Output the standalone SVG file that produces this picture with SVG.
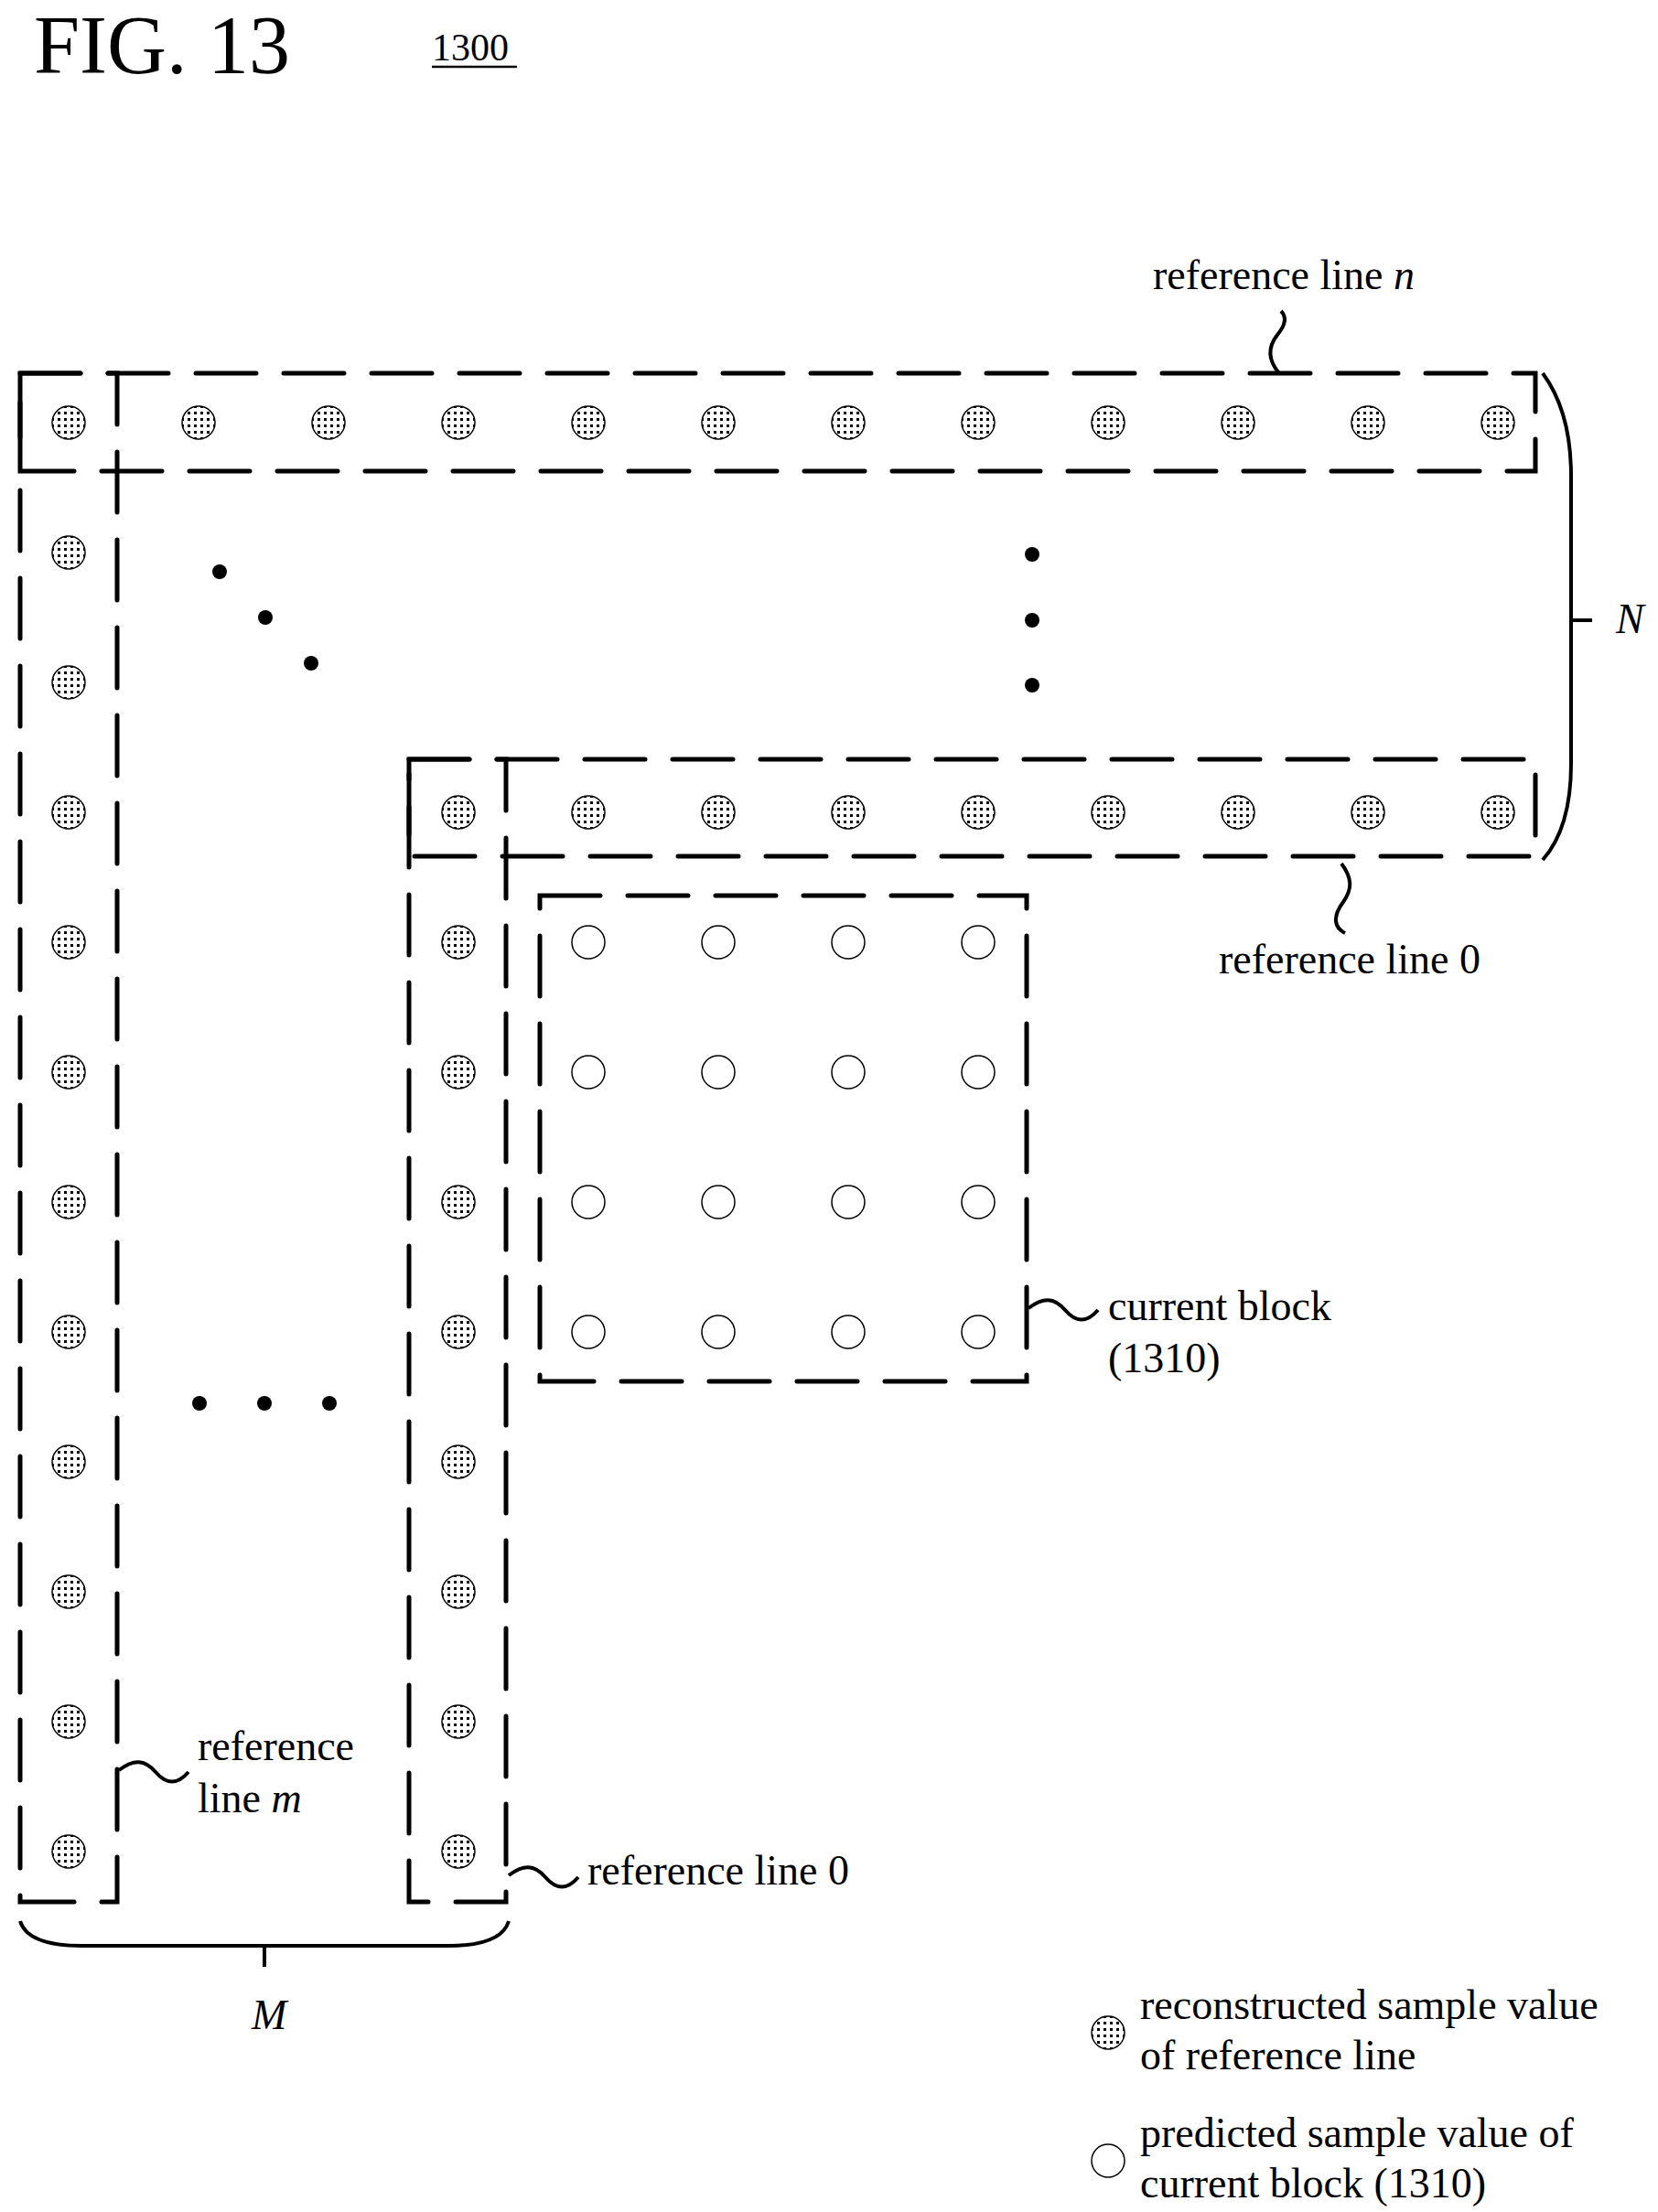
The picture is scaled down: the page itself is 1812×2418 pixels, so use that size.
<svg xmlns="http://www.w3.org/2000/svg" width="1812" height="2418" viewBox="0 0 1812 2418">
<style>
.d{fill:none;stroke:#000;stroke-width:5;stroke-dasharray:66 30;stroke-linecap:round}
.s{fill:none;stroke:#000;stroke-width:4}
.r{fill:url(#dots);stroke:#000;stroke-width:1.5}
.o{fill:#fff;stroke:#000;stroke-width:1.5}
.t{font-family:"Liberation Serif",serif;font-size:46px;fill:#000}
.dot{fill:#000}
</style>
<defs>
<pattern id="dots" width="7" height="7" patternUnits="userSpaceOnUse"><rect width="7" height="7" fill="#fff"/><rect x="2" y="2" width="3" height="3" fill="#000"/></pattern>
<g id="rc"><circle r="18" class="r"/></g>
<g id="pc"><circle r="18" class="o"/></g>
</defs>
<rect width="1812" height="2418" fill="#fff"/>
<text x="37" y="80" class="t" style="font-size:90px">FIG. 13</text>
<text x="472" y="66" class="t" style="font-size:42px">1300</text>
<line x1="472" y1="73" x2="565" y2="73" stroke="#000" stroke-width="2.5"/>

<g id="refline-n-h"><rect x="22" y="408" width="1656" height="107" class="d"/></g>
<g id="refline-m-v"><rect x="22" y="408" width="106" height="1671" class="d"/></g>
<g id="refline-0-h"><rect x="447" y="830" width="1231" height="106" class="d"/></g>
<g id="refline-0-v"><rect x="447" y="830" width="106" height="1249" class="d"/></g>
<g id="current-block"><rect x="590" y="979" width="532" height="531" class="d"/></g>

<g id="samples">
<use href="#rc" x="75" y="462"/><use href="#rc" x="217" y="462"/><use href="#rc" x="359" y="462"/><use href="#rc" x="501" y="462"/><use href="#rc" x="643" y="462"/><use href="#rc" x="785" y="462"/><use href="#rc" x="927" y="462"/><use href="#rc" x="1069" y="462"/><use href="#rc" x="1211" y="462"/><use href="#rc" x="1353" y="462"/><use href="#rc" x="1495" y="462"/><use href="#rc" x="1637" y="462"/>
<use href="#rc" x="75" y="604"/><use href="#rc" x="75" y="746"/><use href="#rc" x="75" y="888"/><use href="#rc" x="75" y="1030"/><use href="#rc" x="75" y="1172"/><use href="#rc" x="75" y="1314"/><use href="#rc" x="75" y="1456"/><use href="#rc" x="75" y="1598"/><use href="#rc" x="75" y="1740"/><use href="#rc" x="75" y="1882"/><use href="#rc" x="75" y="2024"/>
<use href="#rc" x="501" y="888"/><use href="#rc" x="643" y="888"/><use href="#rc" x="785" y="888"/><use href="#rc" x="927" y="888"/><use href="#rc" x="1069" y="888"/><use href="#rc" x="1211" y="888"/><use href="#rc" x="1353" y="888"/><use href="#rc" x="1495" y="888"/><use href="#rc" x="1637" y="888"/>
<use href="#rc" x="501" y="1030"/><use href="#rc" x="501" y="1172"/><use href="#rc" x="501" y="1314"/><use href="#rc" x="501" y="1456"/><use href="#rc" x="501" y="1598"/><use href="#rc" x="501" y="1740"/><use href="#rc" x="501" y="1882"/><use href="#rc" x="501" y="2024"/>
<use href="#pc" x="643" y="1030"/><use href="#pc" x="785" y="1030"/><use href="#pc" x="927" y="1030"/><use href="#pc" x="1069" y="1030"/>
<use href="#pc" x="643" y="1172"/><use href="#pc" x="785" y="1172"/><use href="#pc" x="927" y="1172"/><use href="#pc" x="1069" y="1172"/>
<use href="#pc" x="643" y="1314"/><use href="#pc" x="785" y="1314"/><use href="#pc" x="927" y="1314"/><use href="#pc" x="1069" y="1314"/>
<use href="#pc" x="643" y="1456"/><use href="#pc" x="785" y="1456"/><use href="#pc" x="927" y="1456"/><use href="#pc" x="1069" y="1456"/>
</g>
<g id="ellipses">
<circle cx="240" cy="625" r="8" class="dot"/><circle cx="290" cy="675" r="8" class="dot"/><circle cx="340" cy="725" r="8" class="dot"/>
<circle cx="1128" cy="606" r="8" class="dot"/><circle cx="1128" cy="678" r="8" class="dot"/><circle cx="1128" cy="749" r="8" class="dot"/>
<circle cx="218" cy="1534" r="8" class="dot"/><circle cx="289" cy="1534" r="8" class="dot"/><circle cx="360" cy="1534" r="8" class="dot"/>
</g>
<g id="connectors">
<path class="s" d="M1686 408 Q1717 450 1717 520 L1717 835 Q1717 905 1686 940 M1717 678 L1740 678"/>
<path class="s" d="M22 2100 Q30 2127 90 2127 L490 2127 Q548 2127 556 2100 M289 2127 L289 2150"/>
<path class="s" d="M1398 408 C1386 394 1385 380 1396 366 C1406 354 1406 346 1400 340"/>
<path class="s" d="M1466 944 C1478 960 1478 972 1468 986 C1456 1002 1458 1014 1470 1020"/>
<path class="s" d="M1124 1430 C1140 1418 1152 1418 1164 1432 C1176 1446 1188 1446 1200 1432"/>
<path class="s" d="M130 1935 C146 1923 158 1923 170 1937 C182 1951 194 1951 206 1937"/>
<path class="s" d="M556 2050 C572 2038 584 2038 596 2052 C608 2066 620 2066 632 2052"/>
</g>
<g id="labels">
<text x="1260" y="316" class="t">reference line <tspan font-style="italic">n</tspan></text>
<text x="1332" y="1064" class="t">reference line 0</text>
<text x="1211" y="1443" class="t">current block</text>
<text x="1211" y="1500" class="t">(1310)</text>
<text x="216" y="1924" class="t">reference</text>
<text x="216" y="1981" class="t">line <tspan font-style="italic">m</tspan></text>
<text x="642" y="2060" class="t">reference line 0</text>
<text x="1766" y="692" class="t" font-style="italic">N</text>
<text x="275" y="2218" class="t" font-style="italic">M</text>
</g>
<g id="legend">
<use href="#rc" x="1211" y="2222"/>
<text x="1246" y="2207" class="t">reconstructed sample value</text>
<text x="1246" y="2262" class="t">of reference line</text>
<use href="#pc" x="1211" y="2362"/>
<text x="1246" y="2347" class="t">predicted sample value of</text>
<text x="1246" y="2402" class="t">current block (1310)</text>
</g>
</svg>
